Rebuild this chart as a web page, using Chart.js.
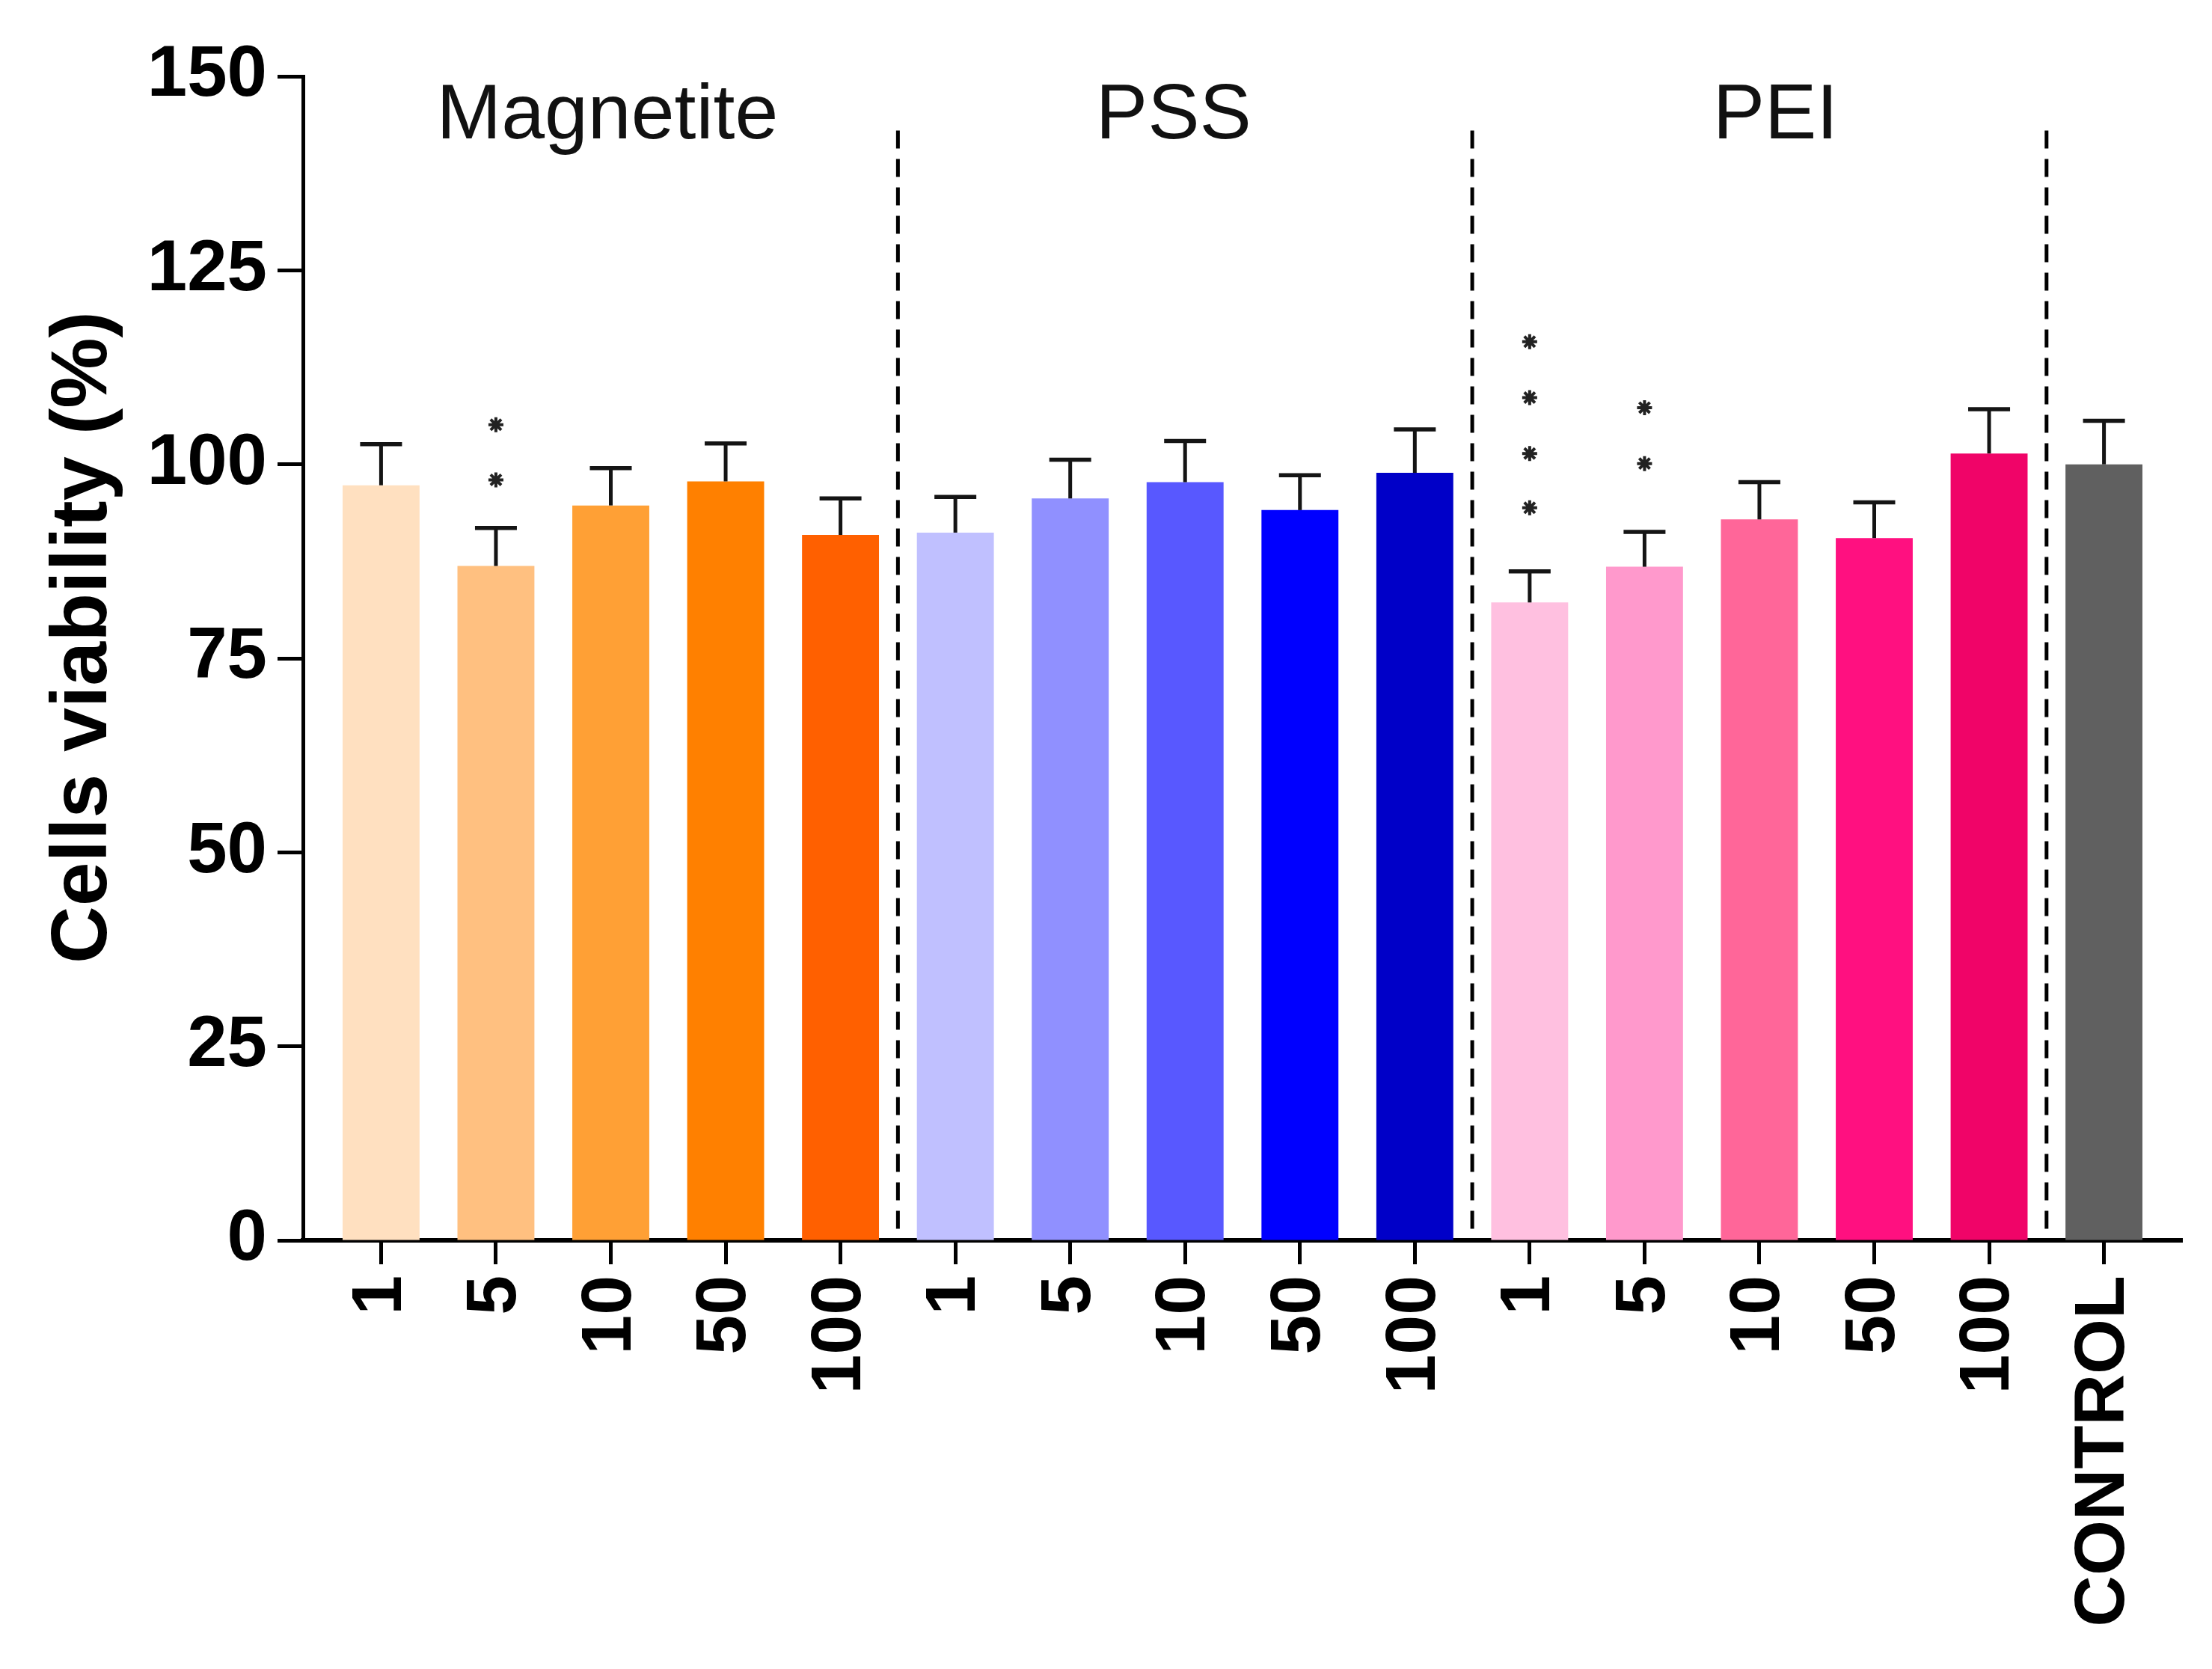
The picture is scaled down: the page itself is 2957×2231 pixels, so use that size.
<!DOCTYPE html>
<html>
<head>
<meta charset="utf-8">
<script src="https://cdn.jsdelivr.net/npm/chart.js@4.4.1/dist/chart.umd.min.js"></script>
<style>
  html, body { margin: 0; padding: 0; background: #ffffff; }
  canvas { display: block; }
</style>
</head>
<body>
<canvas id="c" width="2957" height="2231"></canvas>
<script>
// ---- data ----
const categories = ['1','5','10','50','100','1','5','10','50','100','1','5','10','50','100','CONTROL'];
const viability  = [97.3, 86.9, 94.7, 97.8, 90.9,  91.2, 95.6, 97.7, 94.1, 98.9,  82.2, 86.8, 92.9, 90.5, 101.4,  100.0];
const errorUpper = [5.3, 4.9, 4.8, 4.9, 4.7,  4.6, 5.0, 5.3, 4.5, 5.6,  4.0, 4.5, 4.8, 4.6, 5.7,  5.6];
const barColors  = ['#FFE0C0','#FFC080','#FFA035','#FF8000','#FF6000',
                    '#C0C0FF','#9090FF','#5858FF','#0000FF','#0000C8',
                    '#FFC0E0','#FF99CC','#FF6699','#FF1080','#F00468',
                    '#606060'];
const groupNames = ['Magnetite','PSS','PEI'];
const groupLabelAt = [1.97, 6.9, 12.14]; // category position of each group title
const groupSize  = 5;
const starCategory = [1, 1, 10, 10, 10, 10, 11, 11];
const starLevel    = [105.1, 98.0, 115.8, 108.6, 101.4, 94.4, 107.3, 100.1];
const yTicksMax = 150;
const yTicksStep = 25;
const yTitle = 'Cells viability (%)';
const dividerTop = 143;      // value where dashed separators end
const groupLabelLevel = 142; // value of group label baseline

const FONT = '"Liberation Sans", Arial, Helvetica, sans-serif';

const groupPlugin = {
  id: 'groupDecor',
  afterDatasetsDraw(chart) {
    const ctx = chart.ctx;
    const ys = chart.scales.y;
    const meta = chart.getDatasetMeta(0);
    // error bars (upper only)
    ctx.save();
    ctx.strokeStyle = '#141414';
    ctx.lineCap = 'butt';
    meta.data.forEach((el, i) => {
      const yTop = ys.getPixelForValue(viability[i] + errorUpper[i]);
      ctx.lineWidth = 5;
      ctx.beginPath();
      ctx.moveTo(el.x, el.y);
      ctx.lineTo(el.x, yTop);
      ctx.stroke();
      ctx.lineWidth = 5.5;
      ctx.beginPath();
      ctx.moveTo(el.x - 28, yTop);
      ctx.lineTo(el.x + 28, yTop);
      ctx.stroke();
    });
    ctx.restore();
  },
  afterDraw(chart) {
    const ctx = chart.ctx;
    const xs = chart.scales.x, ys = chart.scales.y;
    const area = chart.chartArea;
    ctx.save();
    // dashed separators between groups
    ctx.strokeStyle = '#000';
    ctx.lineWidth = 5;
    ctx.setLineDash([24, 14]);
    for (let g = 1; g <= groupNames.length; g++) {
      const xp = xs.getPixelForValue(g * groupSize - 0.5);
      ctx.beginPath();
      ctx.moveTo(xp, ys.getPixelForValue(dividerTop));
      ctx.lineTo(xp, ys.getPixelForValue(0));
      ctx.stroke();
    }
    ctx.setLineDash([]);
    // group labels
    ctx.fillStyle = '#111';
    ctx.font = '104px ' + FONT;
    ctx.textAlign = 'center';
    ctx.textBaseline = 'alphabetic';
    groupNames.forEach((name, g) => {
      ctx.fillText(name, xs.getPixelForValue(groupLabelAt[g]), ys.getPixelForValue(groupLabelLevel));
    });
    // y axis title
    ctx.font = 'bold 106px ' + FONT;
    ctx.fillStyle = '#000';
    ctx.textBaseline = 'middle';
    ctx.translate(113, (area.top + area.bottom) / 2 - 28);
    ctx.rotate(-Math.PI / 2);
    ctx.fillText(yTitle, 0, 0);
    ctx.restore();
  }
};

const chart = new Chart(document.getElementById('c'), {
  type: 'bar',
  data: {
    datasets: [
      {
        type: 'bar',
        data: viability.map((v, i) => ({x: i, y: v})),
        backgroundColor: barColors,
        borderWidth: 0,
        categoryPercentage: 1,
        barPercentage: 0.67,
        order: 2
      },
      {
        type: 'line',
        data: starLevel.map((v, i) => ({x: starCategory[i], y: v})),
        showLine: false,
        pointStyle: 'star',
        pointRadius: 10,
        pointBorderWidth: 4,
        pointBorderColor: '#222',
        pointBackgroundColor: '#222',
        order: 1
      }
    ]
  },
  options: {
    responsive: false,
    devicePixelRatio: 1,
    animation: false,
    layout: { padding: { top: 102, right: 40, bottom: 0, left: 0 } },
    plugins: { legend: { display: false }, tooltip: { enabled: false } },
    scales: {
      x: {
        type: 'linear',
        offset: false,
        min: -0.68,
        max: categories.length - 1 + 0.68,
        afterFit(scale) { scale.height = 573; },
        grid: { offset: false, drawOnChartArea: false, drawTicks: true, tickLength: 32, tickWidth: 5, tickColor: '#000' },
        border: { display: true, color: '#000', width: 6 },
        ticks: {
          stepSize: 1,
          includeBounds: false,
          autoSkip: false,
          minRotation: 90,
          maxRotation: 90,
          padding: 15,
          color: '#000',
          font: { family: FONT, size: 95, weight: 'bold' },
          callback(value) { return Number.isInteger(value) ? categories[value] : ''; }
        }
      },
      y: {
        min: 0,
        max: yTicksMax,
        afterFit(scale) { scale.width = 405; },
        grid: { drawOnChartArea: false, drawTicks: true, tickLength: 34, tickWidth: 5, tickColor: '#000' },
        border: { display: true, color: '#000', width: 5 },
        ticks: {
          stepSize: yTicksStep,
          padding: 14,
          color: '#000',
          font: { family: FONT, size: 96, weight: 'bold' }
        },
        title: { display: false }
      }
    }
  },
  plugins: [groupPlugin]
});
</script>
</body>
</html>
